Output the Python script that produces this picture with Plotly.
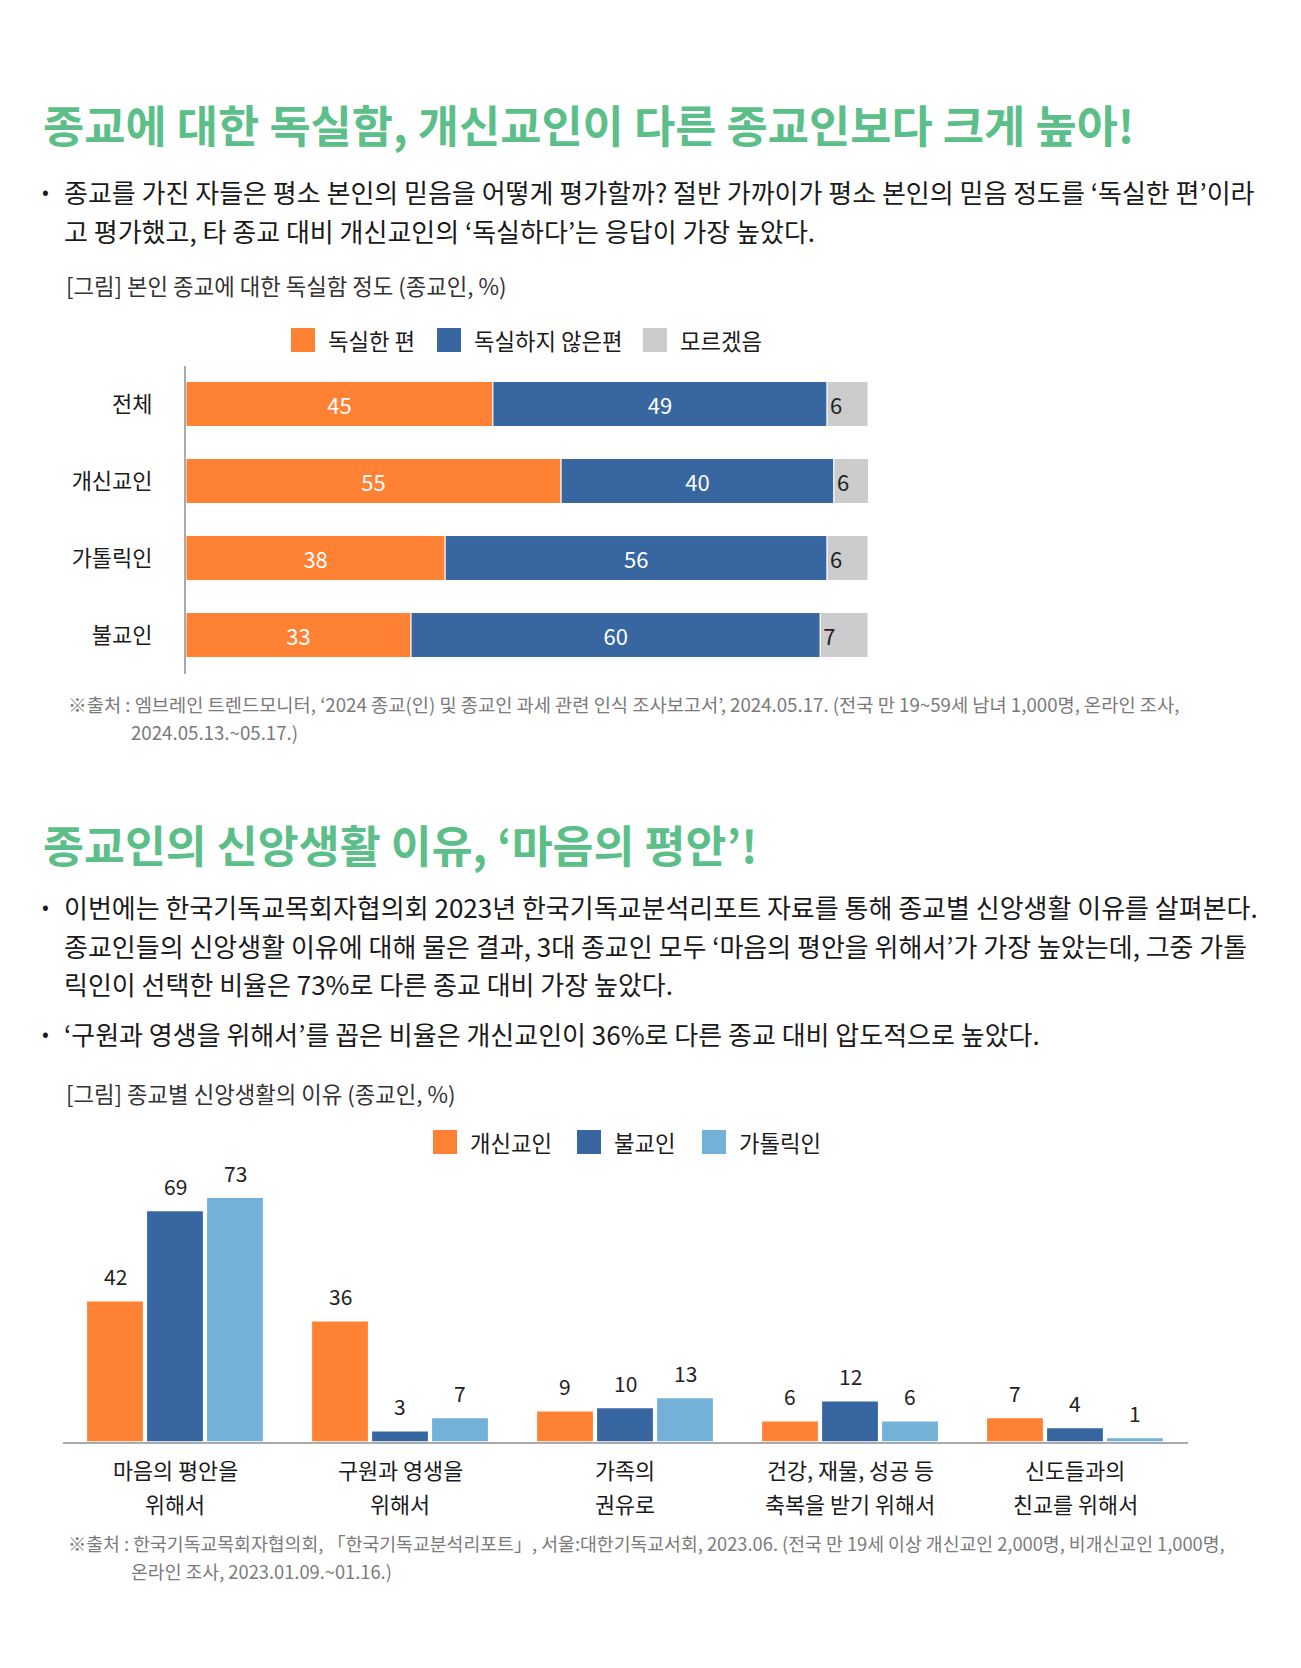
import plotly.graph_objects as go

W, H = 1301, 1668
FONT = "Noto Sans CJK KR"

# ---------- data: chart 1 ----------
c1_categories = ["전체", "개신교인", "가톨릭인", "불교인"]
c1_series = ["독실한 편", "독실하지 않은편", "모르겠음"]
c1_devout = [45, 55, 38, 33]
c1_not_devout = [49, 40, 56, 60]
c1_unknown = [6, 6, 6, 7]
c1_colors = ["#FF8133", "#3866A0", "#CCCCCC"]

# ---------- data: chart 2 ----------
c2_categories = ["마음의 평안을\n위해서", "구원과 영생을\n위해서", "가족의\n권유로",
                 "건강, 재물, 성공 등\n축복을 받기 위해서", "신도들과의\n친교를 위해서"]
c2_series = ["개신교인", "불교인", "가톨릭인"]
c2_protestant = [42, 36, 9, 6, 7]
c2_buddhist = [69, 3, 10, 12, 4]
c2_catholic = [73, 7, 13, 6, 1]
c2_colors = ["#FF8133", "#3866A0", "#73B1D8"]

# ---------- texts ----------
title1 = "종교에 대한 독실함, 개신교인이 다른 종교인보다 크게 높아!"
body1 = ["종교를 가진 자들은 평소 본인의 믿음을 어떻게 평가할까? 절반 가까이가 평소 본인의 믿음 정도를 ‘독실한 편’이라",
         "고 평가했고, 타 종교 대비 개신교인의 ‘독실하다’는 응답이 가장 높았다."]
caption1 = "[그림] 본인 종교에 대한 독실함 정도 (종교인, %)"
source1 = ["※출처 : 엠브레인 트렌드모니터, ‘2024 종교(인) 및 종교인 과세 관련 인식 조사보고서’, 2024.05.17. (전국 만 19~59세 남녀 1,000명, 온라인 조사,",
           "2024.05.13.~05.17.)"]
title2 = "종교인의 신앙생활 이유, ‘마음의 평안’!"
body2a = ["이번에는 한국기독교목회자협의회 2023년 한국기독교분석리포트 자료를 통해 종교별 신앙생활 이유를 살펴본다.",
          "종교인들의 신앙생활 이유에 대해 물은 결과, 3대 종교인 모두 ‘마음의 평안을 위해서’가 가장 높았는데, 그중 가톨",
          "릭인이 선택한 비율은 73%로 다른 종교 대비 가장 높았다."]
body2b = ["‘구원과 영생을 위해서’를 꼽은 비율은 개신교인이 36%로 다른 종교 대비 압도적으로 높았다."]
caption2 = "[그림] 종교별 신앙생활의 이유 (종교인, %)"
source2 = ["※출처 : 한국기독교목회자협의회, 「한국기독교분석리포트」, 서울:대한기독교서회, 2023.06. (전국 만 19세 이상 개신교인 2,000명, 비개신교인 1,000명,",
           "온라인 조사, 2023.01.09.~01.16.)"]


def px(x):
    return x / W


def py(y):
    return 1 - y / H


fig = go.Figure()

# ---------- chart 1: stacked horizontal bars (via base) ----------
c1_values = [c1_devout, c1_not_devout, c1_unknown]
bases = [[0] * len(c1_categories)]
for vals in c1_values[:-1]:
    bases.append([b + v for b, v in zip(bases[-1], vals)])

for i, (name, vals) in enumerate(zip(c1_series, c1_values)):
    last = i == len(c1_series) - 1
    fig.add_trace(go.Bar(
        y=c1_categories, x=vals, base=bases[i], orientation="h",
        name=name, xaxis="x", yaxis="y",
        offsetgroup="c1", width=0.584, offset=-0.292,
        marker=dict(color=c1_colors[i], line=dict(color="white", width=1)),
        text=[str(v) for v in vals], textposition="inside", textangle=0,
        insidetextanchor="start" if last else "middle",
        textfont=dict(family=FONT, size=22, color="#222222" if last else "white"),
        constraintext="none", showlegend=False, hoverinfo="skip",
    ))

# ---------- chart 2: grouped vertical bars ----------
c2_values = [c2_protestant, c2_buddhist, c2_catholic]
for i, (name, vals) in enumerate(zip(c2_series, c2_values)):
    fig.add_trace(go.Bar(
        x=list(range(len(c2_categories))), y=vals, name=name,
        xaxis="x2", yaxis="y2",
        marker=dict(color=c2_colors[i], line=dict(width=0)),
        showlegend=False, hoverinfo="skip",
    ))

annotations = []
shapes = []


def text_ann(x, y, s, size, color="#1a1a1a", bold=False, xanchor="left"):
    annotations.append(dict(
        x=px(x), y=py(y), xref="paper", yref="paper", text=f"<b>{s}</b>" if bold else s,
        showarrow=False, xanchor=xanchor, yanchor="middle",
        font=dict(family=FONT, size=size, color=color),
    ))


# value labels above chart-2 bars
slot = 0.8 / 3
for i, vals in enumerate(c2_values):
    for j, v in enumerate(vals):
        annotations.append(dict(
            x=j + (i - 1) * slot, y=v, xref="x2", yref="y2", text=str(v),
            showarrow=False, yanchor="bottom", yshift=8,
            font=dict(family=FONT, size=21, color="#222222"),
        ))

# chart-2 category labels (two lines each)
for j, lab in enumerate(c2_categories):
    for k, line in enumerate(lab.split("\n")):
        annotations.append(dict(
            x=j, y=py(1469 + k * 34), xref="x2", yref="paper", text=line,
            showarrow=False, yanchor="middle", xanchor="center",
            font=dict(family=FONT, size=21.8, color="#1a1a1a"),
        ))

# titles & body
GREEN = "#5CBF8A"
BODY = 26
text_ann(41, 124, title1, 44.8, GREEN, bold=True)
text_ann(40, 191, "•", 20)
for k, line in enumerate(body1):
    text_ann(62, 192 + k * 38, line, BODY)
text_ann(64, 285, caption1, 22.3, "#333333")
for k, line in enumerate(source1):
    text_ann(66 if k == 0 else 129, 703 + k * 29, line, 18.7, "#7a7a7a")

text_ann(41, 843, title2, 44.5, GREEN, bold=True)
text_ann(40, 906, "•", 20)
for k, line in enumerate(body2a):
    text_ann(62, 907 + k * 38, line, BODY)
text_ann(40, 1032, "•", 20)
for k, line in enumerate(body2b):
    text_ann(62, 1033, line, BODY)
text_ann(64, 1093, caption2, 22.3, "#333333")
for k, line in enumerate(source2):
    text_ann(66 if k == 0 else 129, 1543 + k * 28, line, 18.3, "#7a7a7a")


# custom legends (large squares)
def legend(items, colors, xs, y):
    for (x0, name), col in zip(zip(xs, items), colors):
        shapes.append(dict(type="rect", xref="paper", yref="paper",
                           x0=px(x0), x1=px(x0 + 24), y0=py(y + 12), y1=py(y - 12),
                           fillcolor=col, line=dict(width=0)))
        text_ann(x0 + 35, y, name, 22.3, "#1a1a1a")


legend(c1_series, c1_colors, [291, 437, 643], 340)
legend(c2_series, c2_colors, [433, 577, 702], 1142)

fig.update_layout(
    width=W, height=H, margin=dict(l=0, r=0, t=0, b=0),
    paper_bgcolor="white", plot_bgcolor="white",
    barmode="group", bargap=0.2, bargroupgap=0.07,
    annotations=annotations, shapes=shapes,
    xaxis=dict(domain=[px(186), px(868)], range=[0, 100], visible=False,
               anchor="y", fixedrange=True),
    yaxis=dict(domain=[py(673.5), py(365.5)], type="category", categoryorder="array",
               categoryarray=c1_categories, autorange=False, range=[3.5, -0.5],
               anchor="x", showline=True, linecolor="#AAAAAA", linewidth=2, showgrid=False,
               ticks="", ticklabelstandoff=27, zeroline=False,
               tickfont=dict(family=FONT, size=22, color="#1a1a1a")),
    xaxis2=dict(domain=[px(62.5), px(1187.5)], range=[-0.5, 4.5], anchor="y2",
                showline=True, linecolor="#AAAAAA", linewidth=2, showticklabels=False,
                ticks="", showgrid=False, zeroline=False),
    yaxis2=dict(domain=[py(1441.5), py(1174.6)], range=[0, 80], anchor="x2",
                visible=False, showgrid=False, zeroline=False),
    showlegend=False,
)

fig.write_html("out.html")
